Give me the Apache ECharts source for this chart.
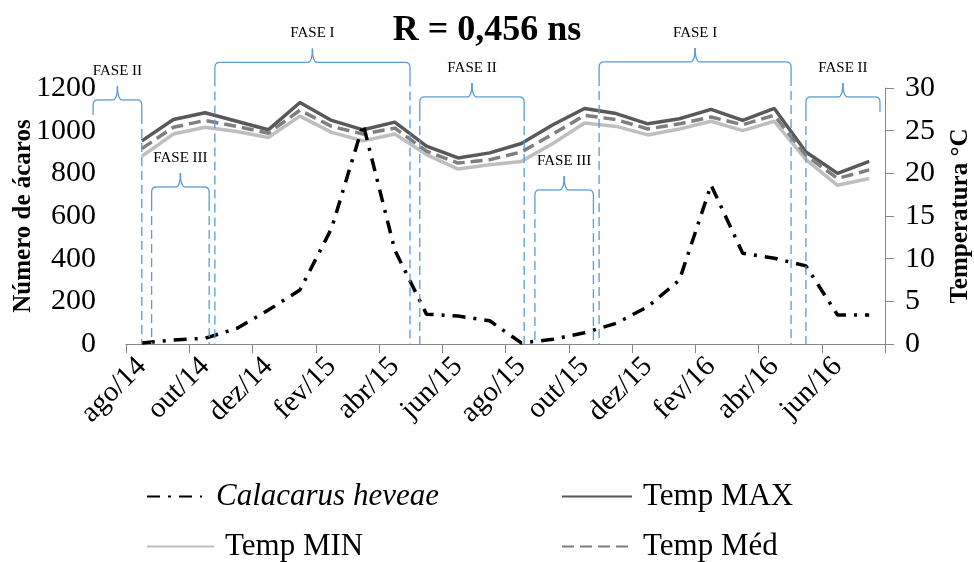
<!DOCTYPE html>
<html><head><meta charset="utf-8">
<script src="https://cdn.jsdelivr.net/npm/echarts@6/dist/echarts.min.js"></script>
<style>html,body{margin:0;padding:0;background:#fff}#c{width:974px;height:562px}</style>
</head><body><div id="c"></div>
<script>
// ---- data ----
const categories = ['ago/14','set/14','out/14','nov/14','dez/14','jan/15','fev/15','mar/15','abr/15','mai/15','jun/15','jul/15',
                    'ago/15','set/15','out/15','nov/15','dez/15','jan/16','fev/16','mar/16','abr/16','mai/16','jun/16','jul/16'];
const calacarus = [5, 19, 27, 73, 159, 253, 542, 1030, 440, 140, 131, 109, 5, 22, 53, 97, 175, 300, 745, 425, 402, 366, 136, 136];
const tempMax = [23.8, 26.3, 27.1, 26.1, 25.1, 28.3, 26.2, 25.1, 26.0, 23.2, 21.8, 22.4, 23.5, 25.7, 27.6, 27.0, 25.8, 26.4, 27.5, 26.2, 27.6, 22.5, 20.0, 21.4];
const tempMin = [22.0, 24.6, 25.4, 24.9, 24.2, 26.7, 24.8, 23.8, 24.6, 22.2, 20.5, 21.0, 21.4, 23.5, 25.9, 25.5, 24.5, 25.2, 26.1, 25.0, 26.1, 21.6, 18.6, 19.4];
const tempMed = [22.9, 25.4, 26.2, 25.5, 24.7, 27.4, 25.5, 24.6, 25.3, 22.6, 21.2, 21.6, 22.5, 24.6, 26.8, 26.3, 25.2, 25.8, 26.6, 25.7, 26.8, 22.1, 19.4, 20.4];
// phase annotations (category-index units, left-axis units for the brace top)
const phaseLabels = ['FASE II','FASE III','FASE I','FASE II','FASE III','FASE I','FASE II'];
const phaseStart  = [-1.54, 0.31, 2.31, 8.79, 12.43, 14.46, 21.0];
const phaseEnd    = [0.0, 2.13, 8.48, 12.09, 14.28, 20.53, 23.34];
const phaseTop    = [1144, 736, 1320, 1158, 722, 1322, 1158];
const phaseDownL  = [false, true, true, true, true, true, true];
const phaseDownR  = [true, true, true, true, true, true, false];

const FONT = '"Liberation Serif","Times New Roman",serif';
const chart = echarts.init(document.getElementById('c'));
const legendBase = {itemHeight:14, padding:0, itemStyle:{opacity:0},
  textStyle:{fontFamily:FONT, fontSize:31, color:'#000', padding:[0,0,0,6]}};
chart.setOption({
  animation:false,
  backgroundColor:'#fff',
  title:{text:'R = 0,456 ns', left:'center', top:8, textStyle:{fontFamily:FONT, fontSize:36, fontWeight:'bold', color:'#000'}},
  grid:{left:126, right:89, top:88, bottom:218, containLabel:false, outerBoundsMode:'none'},
  legend:[
    Object.assign({}, legendBase, {data:['Calacarus heveae'], left:146, top:481, itemWidth:55,
      textStyle:Object.assign({}, legendBase.textStyle, {fontStyle:'italic', padding:[0,0,0,9]})}),
    Object.assign({}, legendBase, {data:['Temp MAX'], left:561, top:481, itemWidth:70}),
    Object.assign({}, legendBase, {data:['Temp MIN'], left:146, top:531, itemWidth:67}),
    Object.assign({}, legendBase, {data:['Temp Méd'], left:561, top:531, itemWidth:70})
  ],
  xAxis:{type:'category', data:categories, boundaryGap:true,
    axisLine:{lineStyle:{color:'#868686', width:1}},
    axisTick:{show:true, interval:1, length:9, lineStyle:{color:'#868686'}},
    axisLabel:{interval:1, rotate:45, fontFamily:FONT, fontSize:29, color:'#000', margin:18}},
  yAxis:[
    {type:'value', min:0, max:1200, interval:200, name:'Número de ácaros', nameLocation:'middle', nameGap:90, nameRotate:90,
     nameMoveOverlap:false,
     nameTextStyle:{fontFamily:FONT, fontSize:25, fontWeight:'bold', color:'#000'},
     axisLine:{show:false}, axisTick:{show:false}, splitLine:{show:false},
     axisLabel:{fontFamily:FONT, fontSize:30, color:'#000', margin:30, formatter:v => String(v)}},
    {type:'value', min:0, max:30, interval:5, position:'right', name:'Temperatura °C', nameLocation:'middle', nameGap:63, nameRotate:90,
     nameMoveOverlap:false,
     nameTextStyle:{fontFamily:FONT, fontSize:25, fontWeight:'bold', color:'#000'},
     axisLine:{show:true, lineStyle:{color:'#868686'}}, axisTick:{show:true, inside:false, length:9, lineStyle:{color:'#868686'}}, splitLine:{show:false},
     axisLabel:{fontFamily:FONT, fontSize:30, color:'#000', margin:20}}
  ],
  series:[
    {name:'Temp MAX', type:'line', yAxisIndex:1, data:tempMax, symbol:'none', lineStyle:{color:'#595959', width:3.5}, itemStyle:{color:'#595959'}},
    {name:'Temp MIN', type:'line', yAxisIndex:1, data:tempMin, symbol:'none', lineStyle:{color:'#bfbfbf', width:3.5}, itemStyle:{color:'#bfbfbf'}},
    {name:'Temp Méd', type:'line', yAxisIndex:1, data:tempMed, symbol:'none', lineStyle:{color:'#7f7f7f', width:3.5, type:[12,6]}, itemStyle:{color:'#7f7f7f'}},
    {name:'Calacarus heveae', type:'line', yAxisIndex:0, data:calacarus, symbol:'none', lineStyle:{color:'#000', width:3.5, type:[13,8,3,8]}, itemStyle:{color:'#000'}}
  ]
});

// ---- phase braces ----
function xPix(f){
  const a = chart.convertToPixel({xAxisIndex:0}, categories[0]);
  const b = chart.convertToPixel({xAxisIndex:0}, categories[1]);
  return a + f*(b-a);
}
function yPix(v){
  const a = chart.convertToPixel({yAxisIndex:0}, 0);
  const b = chart.convertToPixel({yAxisIndex:0}, 1200);
  return a + (v/1200)*(b-a);
}
const BLUE = '#5b9bd5';
const els = [];
const yBase = yPix(0);
const st = {stroke:BLUE, lineWidth:1.3, fill:null};
function seg(x1,y1,x2,y2){ els.push({type:'line', z:100, shape:{x1,y1,x2,y2}, style:st}); }
function curve(x1,y1,cx,cy,x2,y2){ els.push({type:'bezierCurve', z:100, shape:{x1,y1,x2,y2,cpx1:cx,cpy1:cy}, style:st}); }
for (let i=0;i<phaseLabels.length;i++){
  const x1 = xPix(phaseStart[i]), x2 = xPix(phaseEnd[i]), top = yPix(phaseTop[i]);
  const xc = (x1+x2)/2, r = 5, tip = 14, leg = 15;
  seg(x1, top+leg, x1, top+r);
  curve(x1, top+r, x1, top, x1+r, top);
  seg(x1+r, top, xc-r, top);
  curve(xc-r, top, xc, top, xc, top-tip);
  curve(xc, top-tip, xc, top, xc+r, top);
  seg(xc+r, top, x2-r, top);
  curve(x2-r, top, x2, top, x2, top+r);
  seg(x2, top+r, x2, top+leg);
  if (phaseDownL[i]) els.push({type:'line', z:100, shape:{x1:x1,y1:top+leg,x2:x1,y2:yBase}, style:{stroke:BLUE, lineWidth:1.3, lineDash:[9,5]}});
  if (phaseDownR[i]) els.push({type:'line', z:100, shape:{x1:x2,y1:top+leg,x2:x2,y2:yBase}, style:{stroke:BLUE, lineWidth:1.3, lineDash:[9,5]}});
  els.push({type:'text', z:100, x:xc, y:top-tip-15, style:{text:phaseLabels[i], fill:'#000', font:'15px '+FONT, align:'center', verticalAlign:'middle'}});
}
chart.setOption({graphic:{elements:els}});
</script></body></html>
